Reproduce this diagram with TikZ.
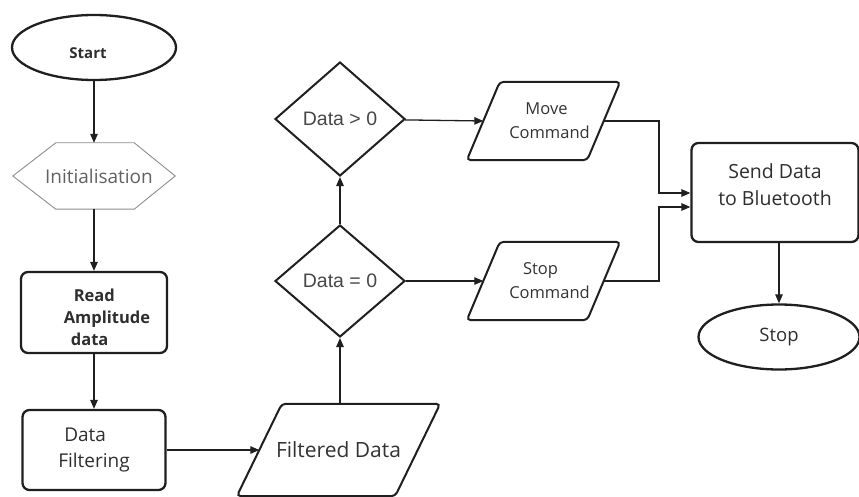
\documentclass[tikz,border=0pt]{standalone}
\usepackage{fontspec}
\setmainfont{Open Sans}
\newfontfamily\decfont{Liberation Sans}
\usetikzlibrary{shapes.geometric,arrows.meta}

\newcommand{\lowered}[2]{\raisebox{-#1}[\height][\depth]{#2}}

\begin{document}
\begin{tikzpicture}[x=1pt,y=-1pt,
  outline/.style={draw=black!88, line width=2.3pt},
  term/.style={outline, ellipse, inner sep=0pt, text=black!82},
  procbox/.style={outline, rounded corners=7pt, inner sep=0pt, text=black!82},
  dec/.style={outline, line width=2pt, diamond, inner sep=0pt, text=black!72,
    font=\decfont\fontsize{19.5}{22}\selectfont},
  iotext/.style={inner sep=0pt, text=black!80},
  ioframe/.style={draw=black!88, line width=2pt, rounded corners=4pt},
  flow/.style={draw=black!88, line width=1.3pt,
    -{Triangle[length=9pt,width=7.5pt]}}
]
\useasboundingbox (0,0) rectangle (859,497);

% left column
\node[term, minimum width=164pt, minimum height=65pt,
  font=\bfseries\fontsize{15}{18}\selectfont] (start) at (94,47.5)
  {\lowered{6pt}{Start}\hspace*{12pt}};
\node[minimum width=162pt, minimum height=66pt, inner sep=0pt, text=black!62,
  font=\fontsize{19}{22}\selectfont] (init) at (94,176)
  {\hspace*{10pt}Initialisation};
\draw[draw=black!45, line width=0.9pt]
  (init.west) -- ([xshift=43pt]init.north west) -- ([xshift=-41pt]init.north east)
  -- (init.east) -- ([xshift=-41pt]init.south east) -- ([xshift=43pt]init.south west)
  -- cycle;
\node[procbox, minimum width=146pt, minimum height=81pt,
  font=\bfseries\fontsize{16.5}{23}\selectfont] (read) at (94,312.5)
  {\lowered{6pt}{\begin{tabular}{@{}l@{}}
    \hspace*{10pt}Read\\[-1pt]Amplitude\\[-1pt]\hspace*{7pt}data
   \end{tabular}}\hspace*{-26pt}};
\node[procbox, minimum width=143pt, minimum height=80pt, align=left,
  font=\fontsize{19}{25.5}\selectfont] (filter) at (94,450)
  {\hspace*{6pt}Data\\Filtering};

% middle column: filtered data (parallelogram) and the two tests
\node[iotext, minimum width=203pt, minimum height=92pt,
  font=\fontsize{21}{24}\selectfont] (fdata) at (338.5,450) {Filtered Data};
\draw[ioframe] (fdata.south west) -- ([xshift=45pt]fdata.north west)
  -- (fdata.north east) -- ([xshift=-45pt]fdata.south east) -- cycle;
\node[dec, minimum width=130pt, minimum height=112pt] (eq) at (340,281) {Data = 0};
\node[dec, minimum width=130pt, minimum height=114pt] (gt) at (340,119) {Data > 0};

% output commands
\node[iotext, minimum width=153pt, minimum height=78pt, align=center,
  font=\fontsize{16.5}{24}\selectfont] (move) at (543.5,121)
  {\hspace*{6pt}Move\\\hspace*{12pt}Command};
\draw[ioframe] (move.south west) -- ([xshift=33pt]move.north west)
  -- (move.north east) -- ([xshift=-33pt]move.south east) -- cycle;
\node[iotext, minimum width=153pt, minimum height=78pt, align=center,
  font=\fontsize{16.5}{24}\selectfont] (halt) at (543.5,281)
  {Stop\hspace*{6pt}\\\hspace*{12pt}Command};
\draw[ioframe] (halt.south west) -- ([xshift=33pt]halt.north west)
  -- (halt.north east) -- ([xshift=-33pt]halt.south east) -- cycle;

% right column
\node[procbox, minimum width=167pt, minimum height=99pt, align=center,
  font=\fontsize{19.5}{27}\selectfont] (send) at (775,192.5)
  {Send Data\\to Bluetooth\\[-12pt]};
\node[term, minimum width=161pt, minimum height=65pt,
  font=\fontsize{18.5}{22}\selectfont] (stop) at (779,337) {Stop};

% merge points in front of the send box
\coordinate (jm) at (659,193);
\coordinate (js) at (659,207);

% connectors
\draw[flow] (start) -- (init);
\draw[flow] (init) -- (read);
\draw[flow] (read) -- (filter);
\draw[flow] (filter) -- ([xshift=22.5pt]fdata.west);
\draw[flow] (fdata.north -| eq.south) -- (eq.south);
\draw[flow] (eq) -- (gt);
\draw[flow] (gt) -- ([xshift=16.5pt]move.west);
\draw[flow] (eq) -- ([xshift=16.5pt]halt.west);
\draw[flow] ([xshift=-16.5pt]move.east) -| (jm) -- (send.west |- jm);
\draw[flow] ([xshift=-16.5pt]halt.east) -| (js) -- (send.west |- js);
\draw[flow] (send.south -| stop.north) -- (stop.north);
\end{tikzpicture}
\end{document}
